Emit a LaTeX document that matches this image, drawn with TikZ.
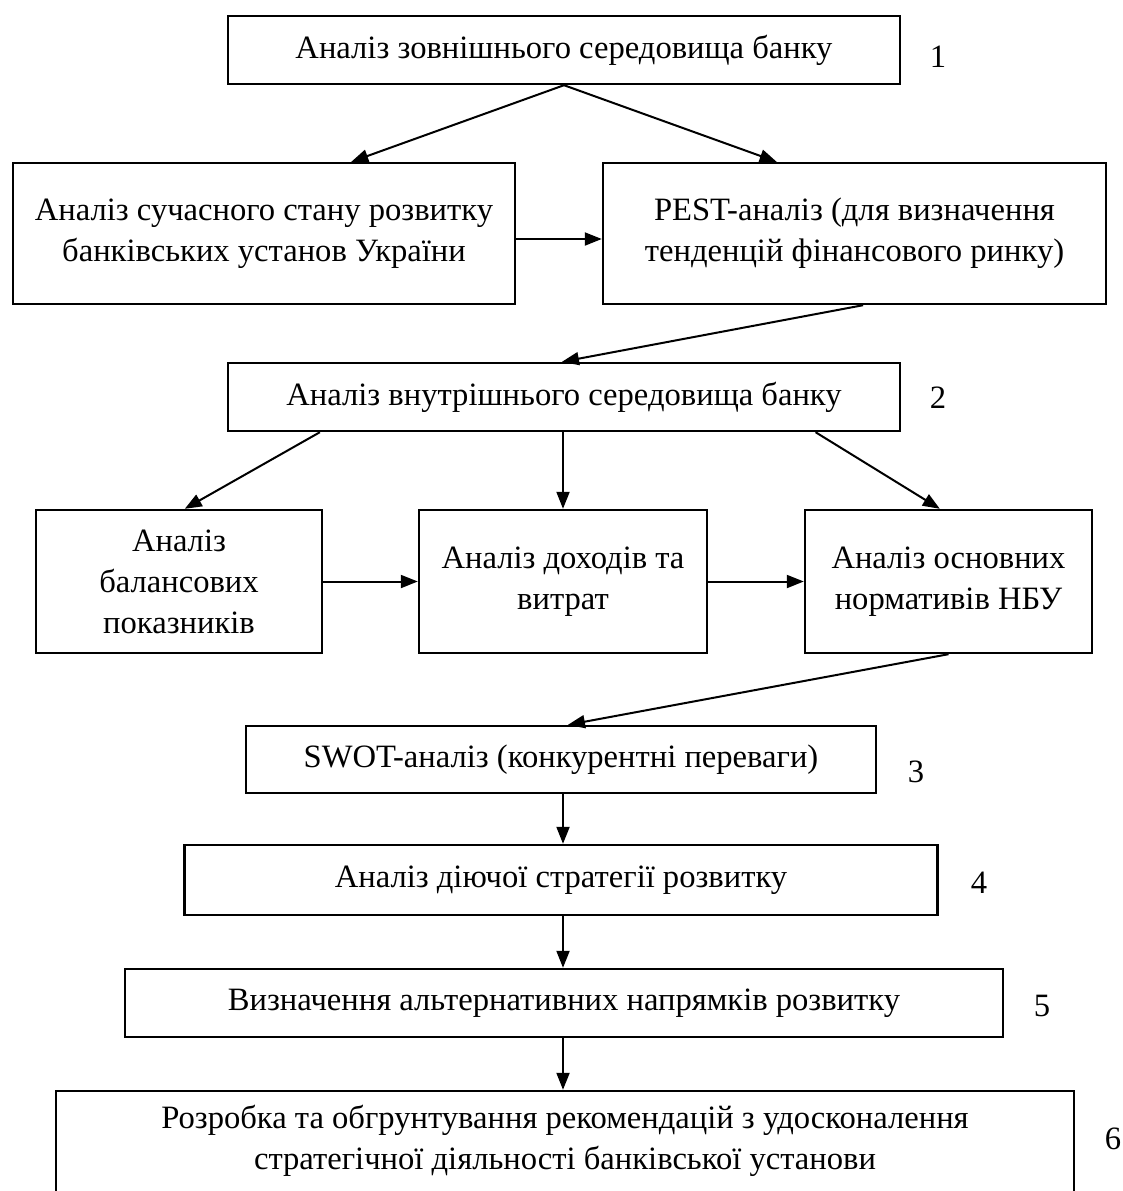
\documentclass[tikz,border=0pt]{standalone}
\usepackage{fontspec}
\setmainfont{Liberation Serif}
\usetikzlibrary{arrows.meta,calc}
\begin{document}
\begin{tikzpicture}[x=1pt,y=-1pt,
  every node/.style={font=\fontsize{32.6}{41}\selectfont},
  box/.style={draw=black, line width=2.4pt, rectangle, inner sep=0pt, align=center},
  numlabel/.style={inner sep=0pt},
  arr/.style={line width=2pt, -{Triangle[length=17pt,width=13pt]}}]
\useasboundingbox (0,0) rectangle (1122,1191);
% boxes
\node[box, minimum width=672pt, minimum height=68pt] (b1) at (564,50) {Аналіз зовнішнього середовища банку};
\node[numlabel] (n1) at (938,57) {1};
\node[box, minimum width=502pt, minimum height=141pt] (b2a) at (264,233.5) {Аналіз сучасного стану розвитку\\банківських установ України};
\node[box, minimum width=503pt, minimum height=141pt] (b2b) at (854.5,233.5) {PEST-аналіз (для визначення\\тенденцій фінансового ринку)};
\node[box, minimum width=672pt, minimum height=68pt] (b3) at (564,397) {Аналіз внутрішнього середовища банку};
\node[numlabel] (n2) at (938,398) {2};
\node[box, minimum width=286pt, minimum height=143pt] (b4a) at (179,581.5) {Аналіз\\балансових\\показників};
\node[box, minimum width=288pt, minimum height=143pt] (b4b) at (563,581.5) {Аналіз доходів та\\витрат};
\node[box, minimum width=287pt, minimum height=143pt] (b4c) at (948.5,581.5) {Аналіз основних\\нормативів НБУ};
\node[box, minimum width=630pt, minimum height=67pt] (b5) at (561,759.5) {SWOT-аналіз (конкурентні переваги)};
\node[numlabel] (n3) at (916,772) {3};
\node[box, minimum width=753pt, minimum height=70pt] (b6) at (561,880) {Аналіз діючої стратегії розвитку};
\node[numlabel] (n4) at (979,883) {4};
\node[box, minimum width=878pt, minimum height=68pt] (b7) at (564,1003) {Визначення альтернативних напрямків розвитку};
\node[numlabel] (n5) at (1042,1006) {5};
\node[box, minimum width=1018pt, minimum height=130pt] (b8) at (565,1156) {};
\node[align=center, inner sep=0pt] (b8t) at (565,1141) {Розробка та обгрунтування рекомендацій з удосконалення\\стратегічної діяльності банківської установи};
\node[numlabel] (n6) at (1113,1139) {6};
% connectors
\draw[arr] (b1.south) -- ($(b2a.north west)!0.673!(b2a.north east)$);
\draw[arr] (b1.south) -- ($(b2b.north west)!0.346!(b2b.north east)$);
\draw[arr] ([yshift=-5.5pt]b2a.east) -- ([yshift=-5.5pt]b2b.west);
\draw[arr] ($(b2b.south west)!0.517!(b2b.south east)$) -- ($(b3.north west)!0.497!(b3.north east)$);
\draw[arr] ($(b3.south west)!0.138!(b3.south east)$) -- ($(b4a.north west)!0.52!(b4a.north east)$);
\draw[arr] (b3.south -| b4b.north) -- (b4b.north);
\draw[arr] ($(b3.south west)!0.873!(b3.south east)$) -- ($(b4c.north west)!0.47!(b4c.north east)$);
\draw[arr] (b4a.east) -- (b4b.west);
\draw[arr] (b4b.east) -- (b4c.west);
\draw[arr] (b4c.south) -- ($(b5.north west)!0.511!(b5.north east)$);
\draw[arr] (b5.south -| b4b.north) -- (b6.north -| b4b.north);
\draw[arr] (b6.south -| b4b.north) -- (b7.north -| b4b.north);
\draw[arr] (b7.south -| b4b.north) -- (b8.north -| b4b.north);
\end{tikzpicture}
\end{document}
